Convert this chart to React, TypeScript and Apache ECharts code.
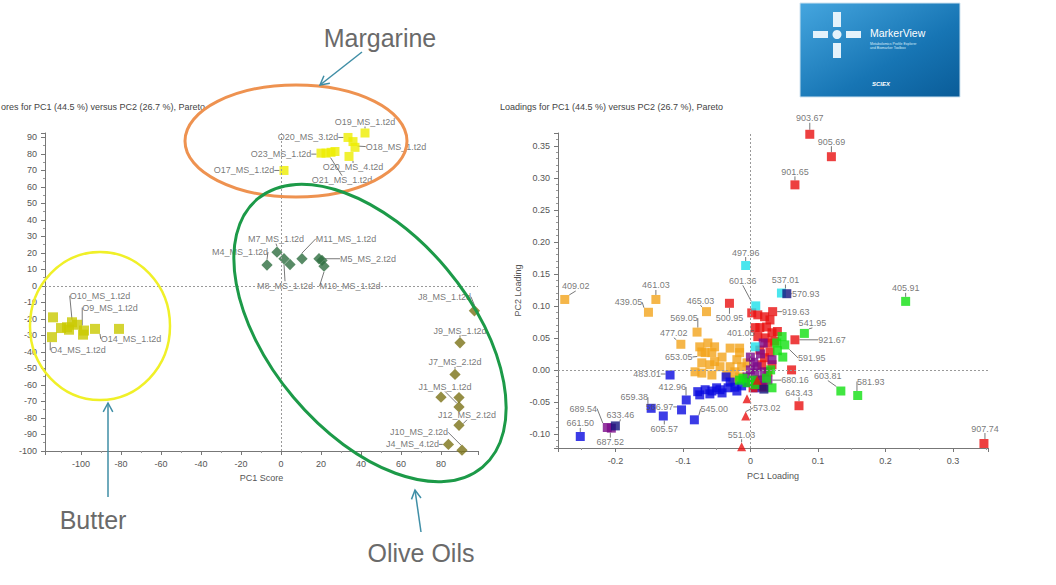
import React, { useEffect, useRef } from 'react';
import * as echarts from 'echarts';

// ---------- texts ----------
const leftTitle = 'ores for PC1 (44.5 %) versus PC2 (26.7 %), Pareto';
const rightTitle = 'Loadings for PC1 (44.5 %) versus PC2 (26.7 %), Pareto';
const leftXName = 'PC1 Score';
const rightXName = 'PC1 Loading';
const rightYName = 'PC2 Loading';
const groupTexts = ['Margarine', 'Butter', 'Olive Oils'];

// ---------- scores plot data ----------
const margarinePts: number[][] = [[33.5, 90], [36, 87.5], [37, 84], [34, 78.5], [42, 92.7], [1.5, 70], [20, 80.5], [22.5, 80.5], [25, 81], [27, 81.5]];
const margarineNames = ['O20_MS_3.t2d', 'O18_MS_1.t2d', '', 'O20_MS_4.t2d', 'O19_MS_1.t2d', 'O17_MS_1.t2d', 'O23_MS_1.t2d', 'O21_MS_1.t2d', '', ''];

const butterPts: number[][] = [[-114, -19], [-114.5, -31], [-110, -25.5], [-107, -25], [-104.5, -22], [-102, -23.5], [-99, -29.5], [-98.5, -27], [-93, -26], [-81, -26], [-106, -26.5]];
const butterNames = ['', 'O4_MS_1.t2d', '', '', '', 'O10_MS_1.t2d', '', 'O9_MS_1.t2d', 'O14_MS_1.t2d', '', ''];

const mPts: number[][] = [[-2, 20.5], [-7, 12.7], [1.5, 16.5], [4.5, 13], [10.5, 16.5], [19, 16.5], [20.5, 15.5], [21.5, 12]];
const mNames = ['M7_MS_1.t2d', 'M4_MS_1.t2d', 'M8_MS_1.t2d', '', 'M11_MS_1.t2d', 'M5_MS_2.t2d', '', 'M10_MS_1.t2d'];

const jPts: number[][] = [[96.7, -15], [89.5, -34.4], [87, -53.6], [89, -73.3], [80, -67.4], [89, -67.6], [89, -84.4], [83.7, -96], [90.5, -99.5]];
const jNames = ['J8_MS_1.t2d', 'J9_MS_1.t2d', 'J7_MS_2.t2d', 'J1_MS_1.t2d', '', '', 'J12_MS_2.t2d', 'J4_MS_4.t2d', 'J10_MS_2.t2d'];

// ---------- loadings plot data ----------
const orangePts: number[][] = [[-0.275, 0.11], [-0.14, 0.11], [-0.151, 0.09], [-0.065, 0.091], [-0.079, 0.059], [-0.103, 0.04], [-0.072, 0.028],
  [-0.063, 0.042], [-0.075, 0.036], [-0.053, 0.036], [-0.067, 0.027], [-0.057, 0.027], [-0.042, 0.02], [-0.03, 0.034], [-0.016, 0.034],
  [-0.072, 0.011], [-0.06, 0.008], [-0.053, 0.013], [-0.045, 0.005], [-0.082, -0.003], [-0.072, -0.005], [-0.057, -0.008], [-0.03, 0.005],
  [-0.02, 0.016], [-0.016, 0.027], [-0.035, -0.008], [-0.023, -0.003], [-0.013, 0.005], [-0.005, 0.011], [-0.026, -0.016], [-0.016, -0.011]];
const orangeNames = ['409.02', '461.03', '439.05', '465.03', '569.05', '477.02', '653.05'];

const bluePts: number[][] = [[-0.119, -0.008], [-0.095, -0.047], [-0.147, -0.06], [-0.102, -0.0625], [-0.129, -0.072], [-0.083, -0.078], [-0.252, -0.104],
  [-0.078, -0.034], [-0.067, -0.031], [-0.057, -0.033], [-0.045, -0.031], [-0.033, -0.028], [-0.023, -0.027], [-0.013, -0.025], [-0.075, -0.039],
  [-0.06, -0.0375], [-0.042, -0.036], [-0.036, -0.011], [-0.03, -0.019], [-0.004, -0.02], [0.007, -0.028], [0.017, -0.025], [-0.05, -0.028], [-0.02, -0.033]];
const blueNames = ['483.01', '412.96', '659.38', '566.97', '605.57', '545.00', '661.50'];

const purplePts: number[][] = [[0.026, -0.016], [-0.212, -0.09], [-0.206, -0.091],
  [0, 0.02], [0.01, 0.005], [0, 0], [0.007, -0.005], [0.032, 0.016], [0.019, 0.042], [0.014, -0.016], [0.021, -0.003], [-0.005, -0.011], [0, -0.019], [0.005, 0.012], [0.015, 0.025]];
const purpleNames = ['680.16', '689.54', '687.52'];

const redPts: number[][] = [[0.088, 0.368], [0.12, 0.333], [0.066, 0.289], [0.033, 0.091], [0.066, 0.047], [0.072, -0.056], [0.346, -0.115], [-0.031, 0.104], [0.014, 0.066],
  [0.061, 0.0], [0.002, 0.089], [0.011, 0.086], [0.021, 0.083], [0.029, 0.078], [0.007, 0.066], [0.024, 0.067], [0.032, 0.058], [0.011, 0.052], [0.026, 0.042],
  [0.014, 0.031], [0.029, 0.028], [0.021, 0.019], [0.032, 0.008], [0.017, 0.008], [0.026, -0.003], [0.011, -0.016], [0.019, -0.027], [0.004, -0.028], [0.04, 0.06], [0.036, 0.045], [0.022, 0.05]];
const redNames = ['903.67', '905.69', '901.65', '919.63', '921.67', '643.43', '907.74', '500.95', '401.06'];

const greenPts: number[][] = [[0.23, 0.107], [0.08, 0.057], [0.051, 0.039], [0.134, -0.033], [0.159, -0.04],
  [0.047, 0.052], [0.039, 0.042], [0.048, 0.02], [0.032, -0.028], [-0.016, -0.016], [-0.011, -0.013], [-0.005, -0.02], [0.004, -0.016], [0.007, -0.023], [0.024, -0.013], [0.04, 0.03], [0.03, 0.0]];
const greenNames = ['405.91', '541.95', '591.95', '603.81', '581.93'];

const cyanPts: number[][] = [[-0.007, 0.163], [0.008, 0.1], [0.046, 0.12], [0.007, 0.036]];
const cyanNames = ['497.96', '601.36', '537.01'];

const navyPts: number[][] = [[0.054, 0.119], [-0.2, -0.0875], [0.02, -0.03]];
const navyNames = ['570.93', '633.46'];

const trianglePts: number[][] = [[-0.007, -0.072], [-0.013, -0.12], [-0.005, -0.045], [0.01, -0.016]];
const triangleNames = ['573.02', '551.03'];

// ---------- label placement (pixel offsets from the point) ----------
const labelOffsets: Record<string, [number, number]> = {
  'O20_MS_3.t2d': [-40, 0], 'O18_MS_1.t2d': [43, 5], 'O20_MS_4.t2d': [4, 11], 'O19_MS_1.t2d': [0, -11], 'O17_MS_1.t2d': [-40, 0],
  'O23_MS_1.t2d': [-40, 1], 'O21_MS_1.t2d': [16, 27],
  'O4_MS_1.t2d': [26, 13], 'O10_MS_1.t2d': [23, -29], 'O9_MS_1.t2d': [26, -23], 'O14_MS_1.t2d': [36, 10],
  'M7_MS_1.t2d': [-1, -13], 'M4_MS_1.t2d': [-27, -13], 'M8_MS_1.t2d': [1, 27], 'M11_MS_1.t2d': [44, -20], 'M5_MS_2.t2d': [49, 0], 'M10_MS_1.t2d': [26, 20],
  'J8_MS_1.t2d': [-30, -14], 'J9_MS_1.t2d': [0, -12], 'J7_MS_2.t2d': [0, -12], 'J1_MS_1.t2d': [-14, -20], 'J12_MS_2.t2d': [8, -10], 'J4_MS_4.t2d': [-36, 0], 'J10_MS_2.t2d': [-43, -18],
  '903.67': [0, -16], '905.69': [0, -15], '901.65': [0, -13], '405.91': [0, -13], '537.01': [4, -13], '570.93': [19, 0], '919.63': [23, 0],
  '541.95': [8, -10], '921.67': [37, 0], '591.95': [27, 13], '680.16': [27, 0], '603.81': [-13, -15], '581.93': [13, -14], '643.43': [0, -13],
  '907.74': [1, -15], '573.02': [21, -8], '551.03': [0, -12], '409.02': [11, -13], '461.03': [0, -14], '439.05': [-20, -10], '465.03': [-6, -11],
  '500.95': [0, 15], '497.96': [0, -13], '601.36': [-13, -25], '569.05': [-13, -14], '477.02': [-7, -11], '401.06': [-19, 5], '653.05': [-23, 5],
  '483.01': [-23, -1], '412.96': [-14, -13], '659.38': [-17, -11], '566.97': [-22, -3], '605.57': [1, 13], '545.00': [20, -11], '689.54': [-24, -19],
  '633.46': [5, -11], '687.52': [-1, 14], '661.50': [0, -13],
};

const FONT = 'Liberation Sans, Arial, sans-serif';
const TEAL = '#3f8ea6';

function scatter(pts: number[][], names: string[], axis: number, symbol: string, size: number, color: string, rotate = 0) {
  return {
    type: 'scatter',
    xAxisIndex: axis,
    yAxisIndex: axis,
    symbol,
    symbolSize: size,
    symbolRotate: rotate,
    clip: false,
    itemStyle: { color },
    data: pts.map((p, i) => ({ value: p, name: names[i] || '', label: { show: !!names[i] } })),
    label: { show: true, position: 'inside', formatter: '{b}', fontSize: 9, color: '#555', fontFamily: FONT },
    labelLine: { show: true, lineStyle: { color: '#555', width: 0.8 } },
    labelLayout: (p: any) => {
      const o = labelOffsets[p.text];
      return o ? { dx: o[0], dy: o[1] } : {};
    },
  };
}

function arrow(x1: number, y1: number, x2: number, y2: number) {
  const a = Math.atan2(y2 - y1, x2 - x1);
  const L = 10, s = 0.5;
  const p1 = [x2 - L * Math.cos(a - s), y2 - L * Math.sin(a - s)];
  const p2 = [x2 - L * Math.cos(a + s), y2 - L * Math.sin(a + s)];
  return [
    { type: 'line', z: 100, shape: { x1, y1, x2, y2 }, style: { stroke: TEAL, lineWidth: 1.5 } },
    { type: 'polyline', z: 100, shape: { points: [p1, [x2, y2], p2] }, style: { stroke: TEAL, fill: 'none', lineWidth: 1.5 } },
  ];
}

const axisLabelBase = { fontSize: 9, color: '#555', fontFamily: FONT, showMinLabel: false, showMaxLabel: false };
const axisCommon = {
  axisLine: { show: true, onZero: false, lineStyle: { color: '#777', width: 1 } },
  axisTick: { show: true, length: 4, lineStyle: { color: '#777' } },
  minorTick: { show: true, splitNumber: 2, length: 2, lineStyle: { color: '#999' } },
  splitLine: { show: false },
  axisLabel: axisLabelBase,
  nameTextStyle: { fontSize: 9, color: '#555', fontFamily: FONT },
};

const zeroLines = {
  silent: true,
  symbol: 'none',
  label: { show: false },
  lineStyle: { type: [2, 2], color: '#999', width: 1 },
  data: [{ xAxis: 0 }, { yAxis: 0 }],
};

function buildOption() {
  const leftSeries = [
    scatter(margarinePts, margarineNames, 0, 'rect', 9, '#eeee00'),
    scatter(butterPts, butterNames, 0, 'rect', 10, '#c9c900'),
    scatter(mPts, mNames, 0, 'rect', 8, '#2e6e40', 45),
    scatter(jPts, jNames, 0, 'rect', 8, '#7a7216', 45),
  ];
  (leftSeries[0] as any).markLine = zeroLines;
  const rightSeries = [
    scatter(orangePts, orangeNames, 1, 'rect', 9, '#f2a41c'),
    scatter(bluePts, blueNames, 1, 'rect', 9, '#0a0ae0'),
    scatter(redPts, redNames, 1, 'rect', 9, '#e81010'),
    scatter(purplePts, purpleNames, 1, 'rect', 9, '#7a0a8a'),
    scatter(greenPts, greenNames, 1, 'rect', 9, '#12e012'),
    scatter(cyanPts, cyanNames, 1, 'rect', 9, '#1ee0ea'),
    scatter(navyPts, navyNames, 1, 'rect', 9, '#14147e'),
    scatter(trianglePts, triangleNames, 1, 'triangle', 9, '#e81010'),
  ];
  (rightSeries[0] as any).markLine = zeroLines;

  const graphics: any[] = [
    { type: 'text', x: 1, y: 107, style: { text: leftTitle, fontSize: 9, fill: '#444', fontFamily: FONT, align: 'left', verticalAlign: 'middle' } },
    { type: 'text', x: 500, y: 107, style: { text: rightTitle, fontSize: 9, fill: '#444', fontFamily: FONT, align: 'left', verticalAlign: 'middle' } },
    // ellipses
    { type: 'ellipse', z: 100, shape: { cx: 296, cy: 141, rx: 111, ry: 56 }, style: { fill: 'none', stroke: '#ee9250', lineWidth: 3 } },
    { type: 'ellipse', z: 100, x: 370, y: 333, rotation: -50 * Math.PI / 180, shape: { cx: 0, cy: 0, rx: 175, ry: 100 }, style: { fill: 'none', stroke: '#1c9a48', lineWidth: 3 } },
    { type: 'ellipse', z: 100, shape: { cx: 100, cy: 326, rx: 70, ry: 74 }, style: { fill: 'none', stroke: '#f0f028', lineWidth: 2.5 } },
    // group captions
    { type: 'text', z: 100, x: 380, y: 38, style: { text: groupTexts[0], fontSize: 25, fill: '#6a6a6a', fontFamily: FONT, align: 'center', verticalAlign: 'middle' } },
    { type: 'text', z: 100, x: 93, y: 520, style: { text: groupTexts[1], fontSize: 25, fill: '#6a6a6a', fontFamily: FONT, align: 'center', verticalAlign: 'middle' } },
    { type: 'text', z: 100, x: 421, y: 553, style: { text: groupTexts[2], fontSize: 25, fill: '#6a6a6a', fontFamily: FONT, align: 'center', verticalAlign: 'middle' } },
    ...arrow(362, 52, 320, 85),
    ...arrow(108, 497, 108, 403),
    ...arrow(421, 532, 415, 490),
    // MarkerView logo
    {
      type: 'group', z: 100, children: [
        { type: 'rect', shape: { x: 800, y: 3, width: 160, height: 94 }, style: { fill: new echarts.graphic.LinearGradient(0, 0, 1, 1, [{ offset: 0, color: '#45a6df' }, { offset: 0.6, color: '#1775b4' }, { offset: 1, color: '#0a5c98' }]), stroke: '#cfe3f0', lineWidth: 1 } },
        { type: 'rect', shape: { x: 833, y: 12, width: 8, height: 15 }, style: { fill: '#e4f2fb' } },
        { type: 'rect', shape: { x: 833, y: 43, width: 8, height: 15 }, style: { fill: '#e4f2fb' } },
        { type: 'rect', shape: { x: 813, y: 31, width: 15, height: 7 }, style: { fill: '#e4f2fb' } },
        { type: 'rect', shape: { x: 846, y: 31, width: 15, height: 7 }, style: { fill: '#e4f2fb' } },
        { type: 'circle', shape: { cx: 837, cy: 34.5, r: 4.5 }, style: { fill: '#e4f2fb' } },
        { type: 'text', x: 870, y: 33, style: { text: 'MarkerView', fontSize: 10.5, fill: '#ffffff', fontFamily: FONT, verticalAlign: 'middle' } },
        { type: 'text', x: 870, y: 42, style: { text: 'Metabolomics Profile Explorer\nand Biomarker Toolbox', fontSize: 3.5, fill: '#d8ecf8', fontFamily: FONT, lineHeight: 4 } },
        { type: 'text', x: 872, y: 84, style: { text: 'SCIEX', fontSize: 6, fontStyle: 'italic', fontWeight: 'bold', fill: '#ffffff', fontFamily: FONT, verticalAlign: 'middle' } },
      ],
    },
  ];

  return {
    animation: false,
    backgroundColor: '#ffffff',
    textStyle: { fontFamily: FONT },
    grid: [
      { left: 45, top: 133, width: 433, height: 318 },
      { left: 558, top: 133, width: 430, height: 315 },
    ],
    xAxis: [
      { ...axisCommon, gridIndex: 0, type: 'value', min: -118, max: 98.5, splitNumber: 10, name: leftXName, nameLocation: 'middle', nameGap: 22 },
      { ...axisCommon, gridIndex: 1, type: 'value', min: -0.285, max: 0.352, splitNumber: 5, name: rightXName, nameLocation: 'middle', nameGap: 23,
        axisLabel: { ...axisLabelBase, formatter: (v: number) => (Math.abs(v) < 1e-9 ? '0' : v.toFixed(1)) } },
    ],
    yAxis: [
      { ...axisCommon, gridIndex: 0, type: 'value', min: -100, max: 92.7, splitNumber: 19, axisLabel: { ...axisLabelBase, showMinLabel: true } },
      { ...axisCommon, gridIndex: 1, type: 'value', min: -0.122, max: 0.37, splitNumber: 10, name: rightYName, nameLocation: 'middle', nameGap: 36, nameRotate: 90,
        minorTick: { show: true, splitNumber: 5, length: 2, lineStyle: { color: '#999' } },
        axisLabel: { ...axisLabelBase, formatter: (v: number) => v.toFixed(2) } },
    ],
    series: [...leftSeries, ...rightSeries],
    graphic: graphics,
  };
}

export default function App() {
  const ref = useRef<HTMLDivElement>(null);
  useEffect(() => {
    if (!ref.current) return;
    const chart = echarts.init(ref.current, null, { renderer: 'svg' });
    chart.setOption(buildOption() as any);
    return () => chart.dispose();
  }, []);
  return <div ref={ref} style={{ position: 'absolute', left: 0, top: 0, width: 1056, height: 585, background: '#fff' }} />;
}
